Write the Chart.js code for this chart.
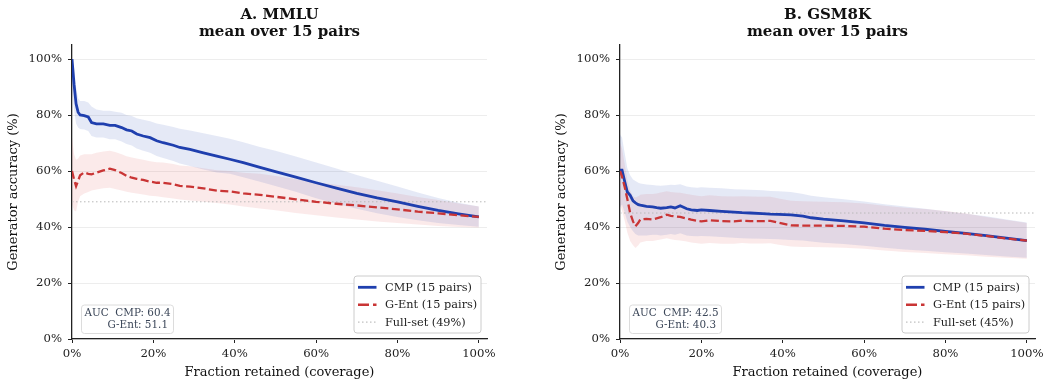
<!DOCTYPE html>
<html>
<head>
<meta charset="utf-8">
<script src="https://cdn.jsdelivr.net/npm/chart.js@4.4.1/dist/chart.umd.min.js"></script>
<style>
  html, body { margin: 0; padding: 0; background: #fff; }
  #wrap { position: relative; width: 1043px; height: 381px; }
  canvas { position: absolute; top: 0; }
</style>
</head>
<body>
<div id="wrap">
  <canvas id="mmlu" width="548" height="381" style="left:0"></canvas>
  <canvas id="gsm" width="495" height="381" style="left:548px"></canvas>
</div>
<script>
// tick labels (percent)
const xTicks = [0, 20, 40, 60, 80, 100];
const yTicks = [0, 20, 40, 60, 80, 100];

// ---- A. MMLU ----
const mmluX = [0, 0.5, 1, 1.5, 2, 3, 4, 4.8, 6, 7.7, 9.3, 10.6, 12.2, 13.4, 14.7, 15.9, 17.5, 19.2, 20.8, 22.4, 24.9, 26.5, 29, 32.3, 35.6, 38.8, 42.1, 46.2, 50, 55, 60, 65, 70, 75, 80, 85, 90, 95, 100];
const mmluCmp = [100, 91, 84, 81, 80, 79.8, 79.3, 77.3, 76.8, 76.8, 76.3, 76.3, 75.5, 74.7, 74.3, 73.2, 72.5, 71.9, 70.8, 70.1, 69.2, 68.4, 67.7, 66.5, 65.3, 64.2, 63.0, 61.3, 59.8, 57.8, 55.8, 53.9, 52.0, 50.4, 49.0, 47.4, 45.9, 44.7, 43.6];
const mmluCmpHi = [100, 97, 90, 86, 85, 85, 84.5, 83, 82, 81.5, 81.5, 81.2, 80.8, 80, 79.6, 78.8, 78.3, 77.8, 77, 76.5, 75.7, 75.1, 74.5, 73.5, 72.5, 71.5, 70.3, 68.6, 67.2, 65.2, 63.0, 60.9, 58.6, 56.5, 54.5, 52.3, 50.4, 48.7, 47.3];
const mmluCmpLo = [88, 82, 77, 75.5, 75, 74.8, 74.3, 72.5, 72, 72, 71.3, 71.3, 70.5, 69.6, 69.1, 68, 67.2, 66.5, 65.4, 64.6, 63.6, 62.7, 61.8, 60.5, 59.5, 59, 57.8, 56.2, 54.6, 52.6, 50.3, 48.3, 46.5, 44.9, 43.6, 42.4, 41.4, 40.7, 40.1];
const mmluGent = [60, 57, 54.6, 56.5, 58.5, 59.5, 59.0, 58.8, 59.4, 60.2, 60.8, 60.3, 59.3, 58.3, 57.6, 57.2, 56.8, 56.2, 55.8, 55.8, 55.3, 54.7, 54.4, 53.8, 53.0, 52.7, 52.0, 51.5, 50.8, 49.9, 49.0, 48.3, 47.7, 47.0, 46.3, 45.5, 44.9, 44.2, 43.6];
const mmluGentHi = [72, 66, 64, 64.5, 65.5, 66, 66, 66, 66.5, 67, 67.2, 66.8, 66, 65.3, 64.8, 64.5, 64, 63.5, 63.1, 63, 62.5, 62, 61.7, 61, 60.3, 60, 59.4, 59, 58.2, 57.1, 56, 55.1, 54.2, 53.1, 52, 50.7, 49.6, 48.4, 47.3];
const mmluGentLo = [48, 46, 45.5, 49, 51, 52, 52.5, 53, 53.4, 53.8, 54, 53.6, 53, 52.6, 52.2, 52, 51.6, 51.2, 51, 50.6, 50.2, 49.8, 49.5, 49, 48.6, 48, 47.3, 46.6, 46, 45, 44.2, 43.4, 42.7, 42, 41.4, 40.9, 40.4, 40, 39.8];
const mmluFull = 49;
const mmluAuc = [60.4, 51.1];

// ---- B. GSM8K ----
const gsmX = [0, 0.5, 1.2, 1.8, 2.5, 3.2, 3.8, 4.5, 5, 6.5, 8, 9, 10, 11.5, 12.5, 13.5, 14.8, 16.4, 17.5, 19, 20, 22, 25, 28, 30, 32, 35, 37, 39, 42, 45, 47, 50, 55, 60, 65, 70, 75, 80, 85, 90, 95, 100];
const gsmCmp = [60.3, 60.3, 56, 52.5, 51.3, 49.3, 48.6, 48.0, 47.8, 47.4, 47.2, 46.9, 46.7, 46.9, 47.2, 46.8, 47.6, 46.5, 46.1, 45.9, 46.1, 45.9, 45.6, 45.3, 45.1, 45.0, 44.8, 44.6, 44.5, 44.3, 43.9, 43.3, 42.8, 42.2, 41.5, 40.6, 39.9, 39.2, 38.4, 37.7, 36.9, 36.0, 35.1];
const gsmCmpHi = [73, 72, 66, 61, 58.5, 57, 56.4, 55.8, 55.5, 55.2, 55, 54.8, 54.7, 54.9, 55.1, 55, 55.3, 54.5, 54.2, 54, 54.2, 54, 53.8, 53.5, 53.4, 53.3, 53.1, 52.9, 52.8, 52.5, 51.8, 51.2, 50.6, 49.9, 49.1, 48.1, 47.3, 46.5, 45.6, 44.7, 43.8, 42.7, 41.6];
const gsmCmpLo = [47, 48, 45, 42, 40, 38.5, 37.5, 37, 37, 37, 37.2, 37.2, 37, 37.2, 37.5, 37.2, 37.8, 37, 36.8, 36.7, 36.8, 36.7, 36.4, 36.2, 36, 35.9, 35.8, 35.7, 35.6, 35.4, 35.2, 34.8, 34.4, 33.9, 33.3, 32.6, 32.0, 31.5, 31.0, 30.5, 30.0, 29.5, 29.0];
const gsmGent = [60, 58, 54, 50, 45, 42, 40.3, 41.5, 42.7, 42.9, 42.7, 43.1, 43.5, 44.4, 44.0, 43.8, 43.6, 43.0, 42.6, 42.2, 42.0, 42.4, 42.1, 42.0, 42.3, 42.1, 42.1, 42.2, 41.5, 40.6, 40.5, 40.5, 40.5, 40.4, 40.1, 39.4, 38.9, 38.6, 38.2, 37.6, 36.8, 35.9, 35.1];
const gsmGentHi = [70, 68, 62, 57, 53, 51, 50.5, 51, 51.5, 51.8, 51.8, 52, 52.3, 52.8, 52.5, 52.3, 52.2, 51.8, 51.5, 51.2, 51, 51.3, 51, 50.9, 51, 50.9, 50.8, 50.8, 50.2, 49.4, 49.2, 49.1, 49, 48.8, 48.4, 47.6, 46.9, 46.4, 45.7, 44.8, 43.6, 42.5, 41.4];
const gsmGentLo = [48, 46, 42, 38, 35, 33.5, 32.5, 33.5, 34.5, 35, 35, 35.3, 35.5, 36, 35.6, 35.4, 35.2, 34.8, 34.5, 34.2, 34, 34.3, 34, 34, 34.3, 34.1, 34.1, 34.2, 33.7, 33, 32.9, 32.9, 32.8, 32.6, 32.2, 31.6, 31.1, 30.7, 30.3, 29.9, 29.4, 29.0, 28.7];
const gsmFull = 45;
const gsmAuc = [42.5, 40.3];

const FONT = '"DejaVu Serif", "Liberation Serif", serif';
const BLUE = '#1f3fae';
const RED = '#c93535';
const DASH = [8, 3.5];

function pts(xs, ys) {
  return xs.map((x, i) => ({ x: x, y: ys[i] }));
}

// titles, legend box and AUC box drawn on the canvas
const decorations = {
  id: 'decorations',
  afterDraw(chart, args, opts) {
    const ctx = chart.ctx;
    const a = chart.chartArea;
    ctx.save();
    ctx.fillStyle = '#111';
    ctx.textAlign = 'center';
    ctx.textBaseline = 'middle';
    ctx.font = 'bold 15px ' + FONT;
    const cx = (a.left + a.right) / 2;
    ctx.fillText(opts.title[0], cx, 15);
    ctx.fillText(opts.title[1], cx, 32.5);

    // AUC box
    ctx.beginPath();
    ctx.roundRect(a.left + 9.5, 305, 92, 28.5, 3);
    ctx.fillStyle = 'rgba(255,255,255,0.85)';
    ctx.fill();
    ctx.strokeStyle = '#dcdcdc';
    ctx.lineWidth = 1;
    ctx.stroke();
    ctx.fillStyle = '#3b4658';
    ctx.font = '10.4px ' + FONT;
    ctx.textAlign = 'right';
    ctx.fillText('AUC  CMP: ' + opts.auc[0].toFixed(1), a.left + 98.5, 313.5);
    ctx.fillText('G-Ent: ' + opts.auc[1].toFixed(1), a.left + 96, 325.5);

    // legend
    const lx = 354, ly = 276;
    ctx.beginPath();
    ctx.roundRect(lx, ly, 127, 57, 3);
    ctx.fillStyle = 'rgba(255,255,255,0.85)';
    ctx.fill();
    ctx.strokeStyle = '#cccccc';
    ctx.stroke();
    const items = [
      { text: 'CMP (15 pairs)', color: BLUE, width: 2.8, dash: [] },
      { text: 'G-Ent (15 pairs)', color: RED, width: 2.4, dash: [11, 4] },
      { text: 'Full-set (' + opts.full + '%)', color: '#b0b0b0', width: 1, dash: [1.5, 2.5] }
    ];
    ctx.font = '11.3px ' + FONT;
    ctx.textAlign = 'left';
    items.forEach((it, i) => {
      const y = ly + 11.3 + i * 17.4;
      ctx.beginPath();
      ctx.setLineDash(it.dash);
      ctx.strokeStyle = it.color;
      ctx.lineWidth = it.width;
      ctx.moveTo(lx + 4, y);
      ctx.lineTo(lx + 22.5, y);
      ctx.stroke();
      ctx.setLineDash([]);
      ctx.fillStyle = '#222';
      ctx.fillText(it.text, lx + 31, y + 0.5);
    });
    ctx.restore();
  }
};

function makeChart(id, title, xs, cmp, cmpHi, cmpLo, gent, gentHi, gentLo, full, auc) {
  const fullLine = [{ x: 0, y: full }, { x: 102, y: full }];
  new Chart(document.getElementById(id).getContext('2d'), {
    type: 'line',
    data: {
      datasets: [
        { data: pts(xs, gent), borderColor: RED, borderWidth: 2.3, borderDash: DASH, pointRadius: 0, fill: false, order: 0 },
        { data: pts(xs, cmp), borderColor: BLUE, borderWidth: 2.8, pointRadius: 0, fill: false, order: 1 },
        { data: fullLine, borderColor: '#b8b8b8', borderWidth: 1, borderDash: [1.5, 2.5], pointRadius: 0, fill: false, order: 2 },
        { data: pts(xs, cmpHi), borderWidth: 0, pointRadius: 0, fill: false, order: 3 },
        { data: pts(xs, cmpLo), borderWidth: 0, pointRadius: 0, fill: '-1', backgroundColor: 'rgba(40,70,180,0.12)', order: 4 },
        { data: pts(xs, gentHi), borderWidth: 0, pointRadius: 0, fill: false, order: 5 },
        { data: pts(xs, gentLo), borderWidth: 0, pointRadius: 0, fill: '-1', backgroundColor: 'rgba(215,60,60,0.11)', order: 6 }
      ]
    },
    options: {
      responsive: false,
      animation: false,
      devicePixelRatio: 1,
      layout: { padding: { top: 45, left: 0, right: id === 'mmlu' ? 61 : 8, bottom: 0 } },
      plugins: {
        legend: { display: false },
        tooltip: { enabled: false },
        decorations: { title: title, auc: auc, full: full }
      },
      scales: {
        x: {
          type: 'linear',
          min: 0,
          max: 102,
          afterBuildTicks: (s) => { s.ticks = xTicks.map(v => ({ value: v })); },
          afterFit: (s) => { s.height = 42; s.paddingLeft = 0; s.paddingRight = 0; },
          ticks: { color: '#222', font: { family: FONT, size: 11.7 }, padding: 3.5, maxRotation: 0, callback: (v) => v + '%' },
          grid: { drawOnChartArea: false, tickLength: 4, tickColor: '#222', tickWidth: 1 },
          border: { color: '#222', width: 1.3 },
          title: { display: true, text: 'Fraction retained (coverage)', color: '#111', font: { family: FONT, size: 13 }, padding: { top: 0, bottom: 0.5 } }
        },
        y: {
          min: 0,
          max: 105,
          afterBuildTicks: (s) => { s.ticks = yTicks.map(v => ({ value: v })); },
          afterFit: (s) => { s.width = 72; s.paddingTop = 0; s.paddingBottom = 0; },
          ticks: { color: '#222', font: { family: FONT, size: 11.7 }, padding: 6, callback: (v) => v + '%' },
          grid: { color: '#ededed', lineWidth: 1, tickLength: 4, tickColor: '#222', tickWidth: 1 },
          border: { color: '#222', width: 1.3 },
          title: { display: true, text: 'Generator accuracy (%)', color: '#111', font: { family: FONT, size: 13 }, padding: { top: 6, bottom: 0 } }
        }
      }
    },
    plugins: [decorations]
  });
}

makeChart('mmlu', ['A. MMLU', 'mean over 15 pairs'], mmluX, mmluCmp, mmluCmpHi, mmluCmpLo, mmluGent, mmluGentHi, mmluGentLo, mmluFull, mmluAuc);
makeChart('gsm', ['B. GSM8K', 'mean over 15 pairs'], gsmX, gsmCmp, gsmCmpHi, gsmCmpLo, gsmGent, gsmGentHi, gsmGentLo, gsmFull, gsmAuc);
</script>
</body>
</html>
